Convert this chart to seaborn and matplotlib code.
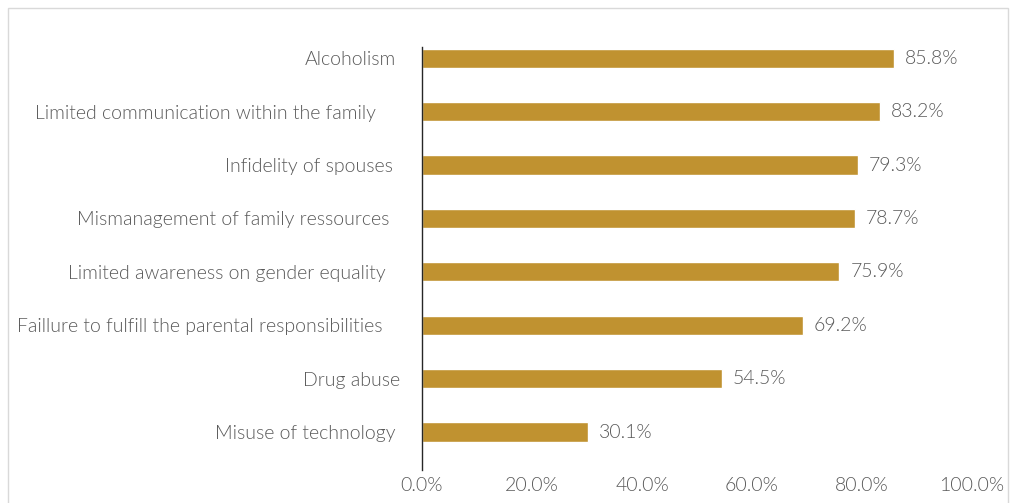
import matplotlib
matplotlib.use("Agg")
import matplotlib.pyplot as plt
import matplotlib.transforms as mtransforms
import seaborn as sns
import pandas as pd
from matplotlib.patches import Rectangle
from matplotlib.ticker import FuncFormatter

# données
causes = [
    "Alcoholism",
    "Limited communication within the family",
    "Infidelity of spouses",
    "Mismanagement of family ressources",
    "Limited awareness on gender equality",
    "Faillure to fulfill the parental responsibilities",
    "Drug abuse",
    "Misuse of technology",
]
shares = [85.8, 83.2, 79.3, 78.7, 75.9, 69.2, 54.5, 30.1]
x_ticks = [0, 20, 40, 60, 80, 100]

# décalage horizontal des étiquettes (px), comme dans l'original
label_shift = [7, -13, 4, 1, -3, -6, 11, 7]

BAR_COLOR = "#C09230"
TEXT_COLOR = "#595959"
WEIGHT = 300

sns.set_theme(style="white")
plt.rcParams['font.family'] = ['Lato', 'DejaVu Sans']

df = pd.DataFrame({"cause": causes, "share": shares})

fig = plt.figure(figsize=(10.11, 5.03), dpi=100)
ax = fig.add_axes([0.4174, 0.0656, 0.5440, 0.8410])

sns.barplot(data=df, x="share", y="cause", color=BAR_COLOR, width=0.36,
            saturation=1, ax=ax, orient="h")

for p, v in zip(ax.patches, shares):
    ax.text(p.get_width() + 2.0, p.get_y() + p.get_height() / 2, f"{v:.1f}%",
            va="center", ha="left", fontsize=14, color=TEXT_COLOR, fontweight=WEIGHT)

ax.set_xlim(0, 100)
ax.set_ylim(7.71, -0.21)
ax.set_xticks(x_ticks)
ax.xaxis.set_major_formatter(FuncFormatter(lambda v, _: f"{v:.1f}%"))
ax.set_xlabel("")
ax.set_ylabel("")
ax.tick_params(axis="both", length=0, labelsize=14, labelcolor=TEXT_COLOR)
ax.tick_params(axis="y", pad=24)
ax.tick_params(axis="x", pad=5)
for lbl in ax.get_xticklabels() + ax.get_yticklabels():
    lbl.set_fontweight(WEIGHT)

for lbl, dx in zip(ax.get_yticklabels(), label_shift):
    offset = mtransforms.ScaledTranslation(dx / 100, 0, fig.dpi_scale_trans)
    lbl.set_transform(lbl.get_transform() + offset)

for s in ["top", "right", "bottom"]:
    ax.spines[s].set_visible(False)
ax.spines["left"].set_color("#262626")
ax.spines["left"].set_linewidth(1.0)

# cadre autour du graphique
fig.patches.append(Rectangle((8 / 1011, -0.02), 1000 / 1011, 1 - 8 / 503 + 0.02,
                             transform=fig.transFigure, fill=False,
                             edgecolor="#D9D9D9", linewidth=1.0))

fig.savefig("out.png", dpi=100)
